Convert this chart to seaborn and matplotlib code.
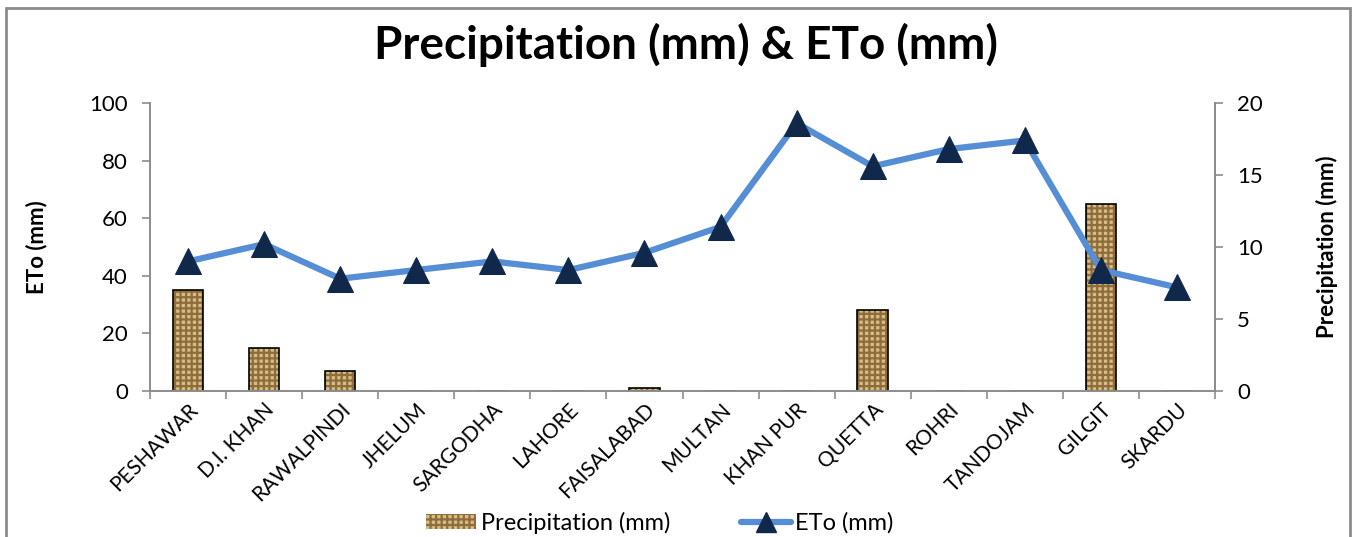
import matplotlib
matplotlib.use("Agg")
import matplotlib.pyplot as plt
import seaborn as sns
import numpy as np
import pandas as pd
from matplotlib.patches import Rectangle, Patch
from matplotlib.lines import Line2D

stations = ["PESHAWAR", "D.I. KHAN", "RAWALPINDI", "JHELUM", "SARGODHA", "LAHORE",
            "FAISALABAD", "MULTAN", "KHAN PUR", "QUETTA", "ROHRI", "TANDOJAM",
            "GILGIT", "SKARDU"]
precipitation = [35, 15, 7, 0, 0, 0, 1, 0, 0, 28, 0, 0, 65, 0]
eto = [9.0, 10.2, 7.8, 8.4, 9.0, 8.4, 9.6, 11.4, 18.6, 15.6, 16.8, 17.4, 8.4, 7.2]

left_ticks = [0, 20, 40, 60, 80, 100]
right_ticks = [0, 5, 10, 15, 20]

sns.set_theme(style="white")
plt.rcParams["font.family"] = ["Lato", "DejaVu Sans"]
plt.rcParams["hatch.linewidth"] = 1.6
for key in ("text.color", "axes.labelcolor", "xtick.labelcolor", "ytick.labelcolor"):
    plt.rcParams[key] = "black"

df = pd.DataFrame({"station": stations, "precip": precipitation, "eto": eto})

fig = plt.figure(figsize=(13.57, 5.37), dpi=100)
ax = fig.add_axes([150 / 1357, 1 - 391 / 537, (1215 - 150) / 1357, (391 - 103) / 537])

axis_grey = "#8c8c8c"
bar_face = "#d6bc86"
weave = "#8f6d3a"

# textured fill, then a crisp black outline on top
sns.barplot(data=df, x="station", y="precip", ax=ax, color=bar_face,
            width=0.4, saturation=1, linewidth=0)
for p in ax.patches:
    p.set_hatch("+++")
    p.set_edgecolor(weave)
    p.set_linewidth(0)
sns.barplot(data=df, x="station", y="precip", ax=ax, fill=False,
            width=0.4, edgecolor="black", linewidth=1.2)

ax.set_ylim(0, 100)
ax.set_yticks(left_ticks)
ax.set_xlim(-0.5, len(stations) - 0.5)
ax.set_xlabel("")
ax.set_ylabel("ETo (mm)", fontsize=16, fontweight="bold", labelpad=30)
ax.tick_params(axis="y", labelsize=16, length=6, width=1.2, color=axis_grey,
               left=True, pad=10)
ax.set_xticks(np.arange(len(stations) + 1) - 0.5, minor=True)
ax.tick_params(axis="x", which="major", length=0, labelsize=15, pad=6)
ax.tick_params(axis="x", which="minor", length=6, width=1.2, color=axis_grey,
               bottom=True)
for lab in ax.get_xticklabels():
    lab.set_rotation(45)
    lab.set_ha("right")
    lab.set_rotation_mode("anchor")

ax2 = ax.twinx()
sns.lineplot(data=df, x="station", y="eto", ax=ax2, sort=False, color="#558ed5",
             linewidth=4.5, marker="^", markersize=19, markerfacecolor="#10284a",
             markeredgecolor="#10284a", zorder=5)
ax2.set_ylim(0, 20)
ax2.set_yticks(right_ticks)
ax2.set_ylabel("Precipitation (mm)", fontsize=16, fontweight="bold", labelpad=38)
ax2.tick_params(axis="y", labelsize=16, length=6, width=1.2, color=axis_grey,
                right=True, pad=10)

for a in (ax, ax2):
    a.spines["top"].set_visible(False)
    for side in ("left", "bottom", "right"):
        a.spines[side].set_color(axis_grey)
        a.spines[side].set_linewidth(1.4)
ax2.spines["left"].set_visible(False)
ax2.spines["bottom"].set_visible(False)

fig.text(686 / 1357, 1 - 45 / 537, "Precipitation (mm) & ETo (mm)", ha="center",
         va="center", fontsize=33, fontweight="bold", color="black")

handles = [Patch(facecolor=bar_face, edgecolor=weave, hatch="+++", linewidth=0),
           Line2D([0], [0], color="#558ed5", linewidth=4.5, marker="^", markersize=15,
                  markerfacecolor="#10284a", markeredgecolor="#10284a")]
fig.legend(handles, ["Precipitation (mm)", "ETo (mm)"], loc="center",
           bbox_to_anchor=(660 / 1357, 1 - 523 / 537), ncol=2, frameon=False,
           fontsize=17, columnspacing=3.0, handlelength=2.1, handleheight=0.6,
           handletextpad=0.2)

fig.patches.append(Rectangle((6 / 1357, -0.05), (1350 - 6) / 1357, 1.05 - 8 / 537,
                             transform=fig.transFigure, fill=False,
                             edgecolor="#8c8c8c", linewidth=2))

fig.savefig("out.png", dpi=100)
